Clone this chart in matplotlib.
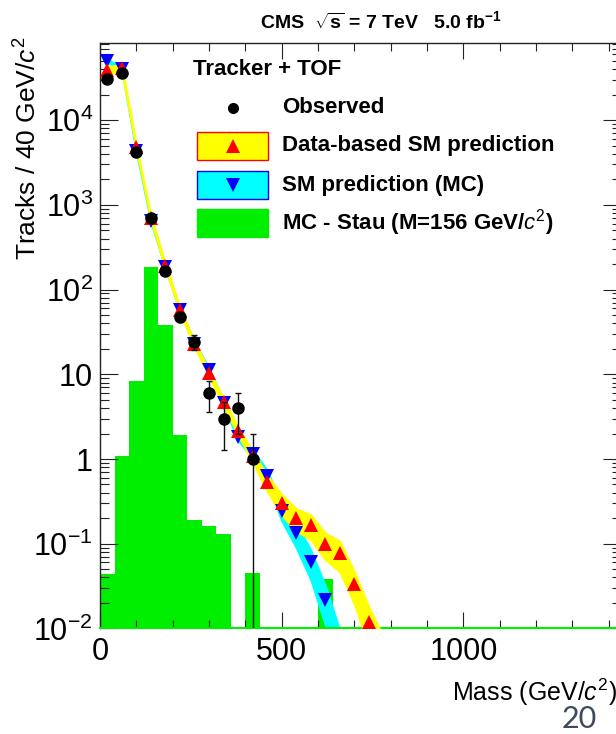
import numpy as np
import matplotlib
matplotlib.use("Agg")
import matplotlib.pyplot as plt
from matplotlib.patches import Rectangle
from matplotlib.ticker import MultipleLocator, LogLocator, FixedLocator, FixedFormatter, NullFormatter

plt.rcParams.update({
    "font.family": ["Liberation Sans", "DejaVu Sans"],
    "mathtext.fontset": "custom",
    "mathtext.rm": "Liberation Sans",
    "mathtext.it": "Liberation Sans:italic",
    "mathtext.bf": "Liberation Sans:bold",
})

# ---- data: tracks per 40 GeV/c^2 mass bin (bin centres) ----
obs_mass = [20, 60, 100, 140, 180, 220, 260, 300, 340, 380, 420]
obs_tracks = [30600, 36400, 4250, 695, 167, 48, 24, 6, 3, 4, 1]

pred_mass = [20, 60, 100, 140, 180, 220, 260, 300, 340, 380, 420,
             460, 500, 540, 580, 620, 660, 700, 740, 780]
pred_tracks = [39200, 41700, 4790, 706, 190, 57.4, 22.8, 10.3, 4.75, 2.14, 1.08,
               0.53, 0.30, 0.20, 0.166, 0.099, 0.077, 0.033, 0.012, 0.005]
pred_relerr = [0.10, 0.10, 0.08, 0.08, 0.08, 0.08, 0.08, 0.10, 0.10, 0.12, 0.15,
               0.22, 0.28, 0.30, 0.33, 0.35, 0.40, 0.42, 0.50, 0.60]

mc_mass = [20, 60, 100, 140, 180, 220, 260, 300, 340, 380, 420,
           460, 500, 540, 580, 620, 660]
mc_tracks = [50500, 40000, 4300, 650, 185, 57, 23, 11.2, 4.6, 1.83, 1.15,
             0.63, 0.24, 0.133, 0.061, 0.0216, 0.006]
mc_relerr = [0.05, 0.05, 0.05, 0.05, 0.05, 0.05, 0.06, 0.07, 0.08, 0.10, 0.12,
             0.18, 0.23, 0.33, 0.39, 0.50, 0.60]

stau_low_edge = [0, 40, 80, 120, 160, 200, 240, 280, 320, 360, 400, 440,
                 480, 520, 560, 600]
stau_tracks = [0.044, 1.09, 8.3, 186, 37.9, 1.9, 0.19, 0.163, 0.130, 0.0, 0.045, 0.0,
               0.0, 0.0, 0.0, 0.038]
bin_width = 40

y_ticks = [1e-2, 1e-1, 1, 10, 1e2, 1e3, 1e4]
y_ticklabels = [r"$10^{-2}$", r"$10^{-1}$", "1", "10", r"$10^{2}$", r"$10^{3}$", r"$10^{4}$"]

GREEN = "#00ee00"
YELLOW = "#ffff00"
CYAN = "#00ffff"
RED = "#ff0000"
BLUE = "#0000ff"

fig = plt.figure(figsize=(6.16, 7.34), dpi=100)
fig.patch.set_facecolor("white")
ax = fig.add_axes([100 / 616, 105.6 / 734, 520.7 / 616, 585.1 / 734])
ax.set_yscale("log")
ax.set_xlim(0, 1433)
ax.set_ylim(1e-2, 10 ** 4.908)

# signal histogram
ax.bar(stau_low_edge, stau_tracks, width=bin_width, align="edge",
       color=GREEN, linewidth=0, zorder=1)

# background prediction bands
pm = np.array(pred_mass); pt = np.array(pred_tracks); pe = np.array(pred_relerr)
mm = np.array(mc_mass); mt = np.array(mc_tracks); me = np.array(mc_relerr)
ax.fill_between(mm, mt * (1 - me), mt * (1 + me), facecolor=CYAN,
                edgecolor=CYAN, linewidth=1.2, zorder=2)
ax.fill_between(pm, pt * (1 - pe), pt * (1 + pe), facecolor=YELLOW,
                edgecolor=YELLOW, linewidth=1.2, zorder=3)
ax.plot(mm, mt, linestyle="none", marker="v", markersize=10, color=BLUE,
        markeredgewidth=0, zorder=4)
ax.plot(pm, pt, linestyle="none", marker="^", markersize=10.5, color=RED,
        markeredgewidth=0, zorder=5)

# observed data
ot = np.array(obs_tracks, dtype=float)
ax.errorbar(obs_mass, ot, yerr=np.sqrt(ot), fmt="o", color="black",
            markersize=8, ecolor="#111111", elinewidth=1.0, capsize=2.5,
            capthick=1.0, zorder=6)

# axes styling
ax.xaxis.set_major_locator(MultipleLocator(500))
ax.xaxis.set_minor_locator(MultipleLocator(100))
ax.yaxis.set_major_locator(FixedLocator(y_ticks))
ax.yaxis.set_major_formatter(FixedFormatter(y_ticklabels))
ax.yaxis.set_minor_locator(LogLocator(base=10, subs=np.arange(2, 10), numticks=30))
ax.yaxis.set_minor_formatter(NullFormatter())
ax.tick_params(axis="both", which="both", direction="in", top=True, right=True,
               color="#222222")
ax.tick_params(axis="x", which="major", length=11.5, width=0.8, labelsize=22, pad=6)
ax.tick_params(axis="x", which="minor", length=5.8, width=0.8)
ax.tick_params(axis="y", which="major", length=13, width=0.8, labelsize=22, pad=5)
ax.tick_params(axis="y", which="minor", length=6.5, width=0.8)
for s in ax.spines.values():
    s.set_linewidth(1.0)
    s.set_color("#222222")
ax.spines["bottom"].set_color(GREEN)
ax.spines["bottom"].set_linewidth(1.5)

# legend
bx0, bw, bh = 0.1863, 0.1364, 0.048
tx = 0.3495
ax.text(0.1786, 0.9544, "Tracker + TOF", transform=ax.transAxes, fontsize=16,
        fontweight="bold", ha="left", va="center", zorder=12)
rows = [
    (0.8895, None, None, "o", "black", 8, "Observed"),
    (0.8250, YELLOW, RED, "^", RED, 10.5, "Data-based SM prediction"),
    (0.7578, CYAN, BLUE, "v", BLUE, 10, "SM prediction (MC)"),
    (0.6929, GREEN, GREEN, None, None, 0, r"MC - Stau (M=156 GeV/$c^{2}$)"),
]
for yc, face, edge, mk, mc, ms, label in rows:
    if face is not None:
        ax.add_patch(Rectangle((bx0, yc - bh / 2), bw, bh, transform=ax.transAxes,
                               facecolor=face, edgecolor=edge, linewidth=1.0,
                               zorder=10))
    if mk is not None:
        ax.plot([bx0 + bw / 2], [yc], marker=mk, color=mc, markersize=ms,
                markeredgewidth=0, transform=ax.transAxes, zorder=11)
    ax.text(tx, yc, label, transform=ax.transAxes, fontsize=16,
            fontweight="bold", ha="left", va="center", zorder=12)

# titles
fig.text(502 / 616, 1 - 21 / 734, r"CMS  $\sqrt{\mathbf{s}}$ = 7 TeV   5.0 fb$^{\mathbf{-1}}$",
         fontsize=14, fontweight="bold", ha="right", va="center")
fig.text(28 / 616, 1 - 37 / 734, r"Tracks / 40 GeV/$c^{2}$", fontsize=19,
         rotation=90, ha="center", va="top")
fig.text(452 / 616, 1 - 692 / 734, r"Mass (GeV/$c^{2}$)", fontsize=18,
         ha="left", va="center")
fig.text(579 / 616, 1 - 719 / 734, "20", fontsize=22, color="#3e4b5e",
         family=["Lato", "DejaVu Sans"], ha="center", va="center")

fig.savefig("out.png", dpi=100)
